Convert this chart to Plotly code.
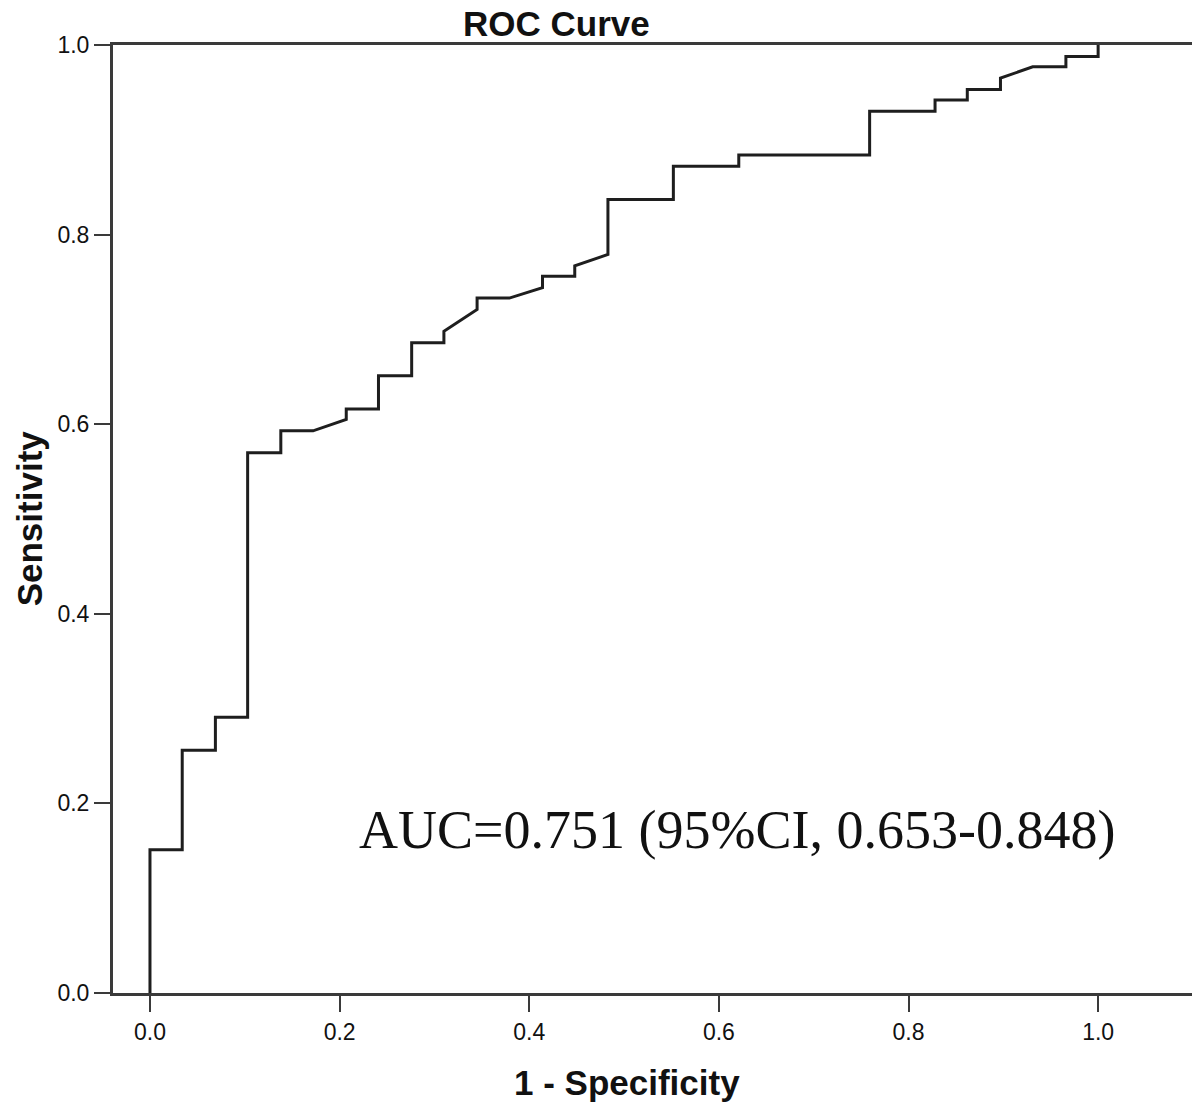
import plotly.graph_objects as go

# ROC curve points (1 - specificity, sensitivity)
fpr = [0.0, 0.0, 0.034, 0.034, 0.069, 0.069, 0.103, 0.103, 0.138, 0.138,
       0.172, 0.207, 0.207, 0.241, 0.241, 0.276, 0.276, 0.310, 0.310, 0.345,
       0.345, 0.379, 0.414, 0.414, 0.448, 0.448, 0.483, 0.483, 0.552, 0.552,
       0.621, 0.621, 0.759, 0.759, 0.828, 0.828, 0.862, 0.862, 0.897, 0.897,
       0.931, 0.966, 0.966, 1.0, 1.0]
tpr = [0.0, 0.151, 0.151, 0.256, 0.256, 0.291, 0.291, 0.570, 0.570, 0.593,
       0.593, 0.605, 0.616, 0.616, 0.651, 0.651, 0.686, 0.686, 0.698, 0.721,
       0.733, 0.733, 0.744, 0.756, 0.756, 0.767, 0.779, 0.837, 0.837, 0.872,
       0.872, 0.884, 0.884, 0.930, 0.930, 0.942, 0.942, 0.953, 0.953, 0.965,
       0.977, 0.977, 0.988, 0.988, 1.0]

tick_vals = [0.0, 0.2, 0.4, 0.6, 0.8, 1.0]
tick_text = ["0.0", "0.2", "0.4", "0.6", "0.8", "1.0"]

auc_label = "AUC=0.751 (95%CI, 0.653-0.848)"

fig = go.Figure()
fig.add_trace(go.Scatter(
    x=fpr, y=tpr,
    mode="lines",
    line=dict(color="#1e1e1e", width=3),
    showlegend=False,
    hoverinfo="skip",
))

axis_style = dict(
    showline=True,
    linecolor="#3a3a3a",
    linewidth=3,
    mirror=True,
    showgrid=False,
    zeroline=False,
    ticks="outside",
    ticklen=16,
    tickwidth=2,
    tickcolor="#3a3a3a",
    tickvals=tick_vals,
    ticktext=tick_text,
    tickfont=dict(family="Liberation Sans, Arial", size=23, color="#111"),
)

# page body adds an 8px margin, so the figure is sized to fit the window
fig.update_layout(
    xaxis=dict(**axis_style, range=[-0.039, 1.099]),
    yaxis=dict(**axis_style, range=[0, 1]),
    plot_bgcolor="white",
    paper_bgcolor="white",
    width=1192,
    height=1097,
    margin=dict(l=105, r=5, t=37, b=112),
    annotations=[
        dict(text="<b>ROC Curve</b>", xref="paper", yref="paper",
             x=0.411, y=1.0232, xanchor="center", yanchor="middle",
             showarrow=False,
             font=dict(family="Liberation Sans, Arial", size=35, color="#111")),
        dict(text="<b>1 - Specificity</b>", xref="paper", yref="paper",
             x=0.476, y=-0.0949, xanchor="center", yanchor="middle",
             showarrow=False,
             font=dict(family="Liberation Sans, Arial", size=35, color="#111")),
        dict(text="<b>Sensitivity</b>", xref="paper", yref="paper",
             x=-0.0776, y=0.501, xanchor="center", yanchor="middle",
             textangle=-90, showarrow=False,
             font=dict(family="Liberation Sans, Arial", size=35, color="#111")),
        dict(text=auc_label, xref="paper", yref="paper",
             x=0.2264, y=0.172, xanchor="left", yanchor="middle",
             showarrow=False,
             font=dict(family="Liberation Serif, Times New Roman", size=54, color="#111")),
    ],
)

fig.write_html("out.html")
